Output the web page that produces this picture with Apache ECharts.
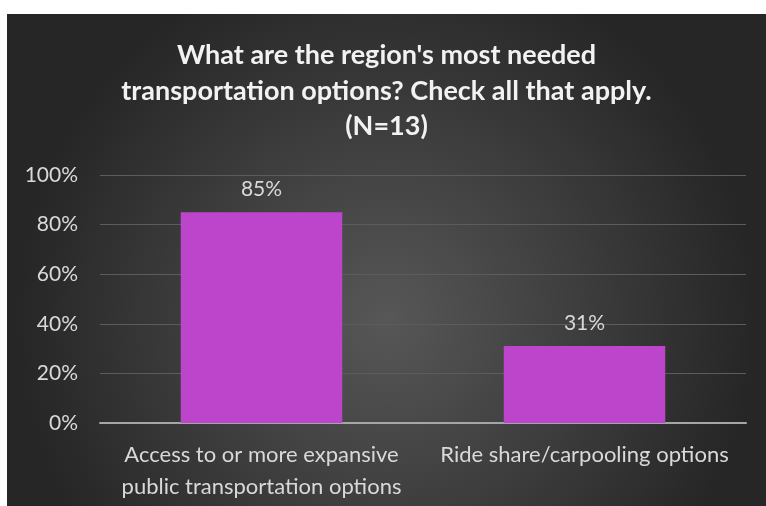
<!DOCTYPE html>
<html>
<head>
<meta charset="utf-8">
<script src="https://cdn.jsdelivr.net/npm/echarts@6/dist/echarts.min.js"></script>
<style>
  html, body { margin: 0; padding: 0; background: #ffffff; }
  #chart { position: absolute; left: 7px; top: 14px; width: 759px; height: 492px; }
</style>
</head>
<body>
<div id="chart"></div>
<script>
// Survey answers: share of respondents choosing each option
const categories = [
  'Access to or more expansive\npublic transportation options',
  'Ride share/carpooling options'
];
const shares = [85, 31];
const yTicks = [0, 20, 40, 60, 80, 100];
const titleText = "What are the region's most needed\ntransportation options? Check all that apply.\n(N=13)";

const FONT = 'Lato, "Noto Sans", sans-serif';
const chart = echarts.init(document.getElementById('chart'), null, { renderer: 'canvas' });

chart.setOption({
  backgroundColor: {
    type: 'radial', x: 0.5, y: 0.62, r: 0.75,
    colorStops: [
      { offset: 0, color: '#575757' },
      { offset: 1, color: '#262626' }
    ]
  },
  title: {
    text: titleText,
    left: 'center',
    top: 19,
    textStyle: {
      color: '#f2f2f2', fontFamily: FONT, fontWeight: 'bold',
      fontSize: 27, lineHeight: 35.5
    }
  },
  grid: { left: 93, right: 20, top: 161, bottom: 83 },
  xAxis: {
    type: 'category',
    data: categories,
    axisLine: { lineStyle: { color: '#a6a6a6', width: 2 } },
    axisTick: { show: false },
    axisLabel: {
      color: '#d9d9d9', fontFamily: FONT, fontSize: 22, lineHeight: 32,
      margin: 16, interval: 0
    }
  },
  yAxis: {
    type: 'value',
    min: yTicks[0], max: yTicks[yTicks.length - 1], interval: 20,
    axisLine: { show: false },
    axisTick: { show: false },
    splitLine: { lineStyle: { color: '#5c5c5c', width: 1 } },
    axisLabel: {
      color: '#d9d9d9', fontFamily: FONT, fontSize: 21, margin: 22,
      formatter: v => v + '%'
    }
  },
  series: [{
    type: 'bar',
    data: shares,
    barWidth: '50%',
    itemStyle: { color: '#bc45cc' },
    label: {
      show: true, position: 'top', distance: 12,
      color: '#d9d9d9', fontFamily: FONT, fontSize: 21,
      formatter: p => p.value + '%'
    }
  }]
});
</script>
</body>
</html>
